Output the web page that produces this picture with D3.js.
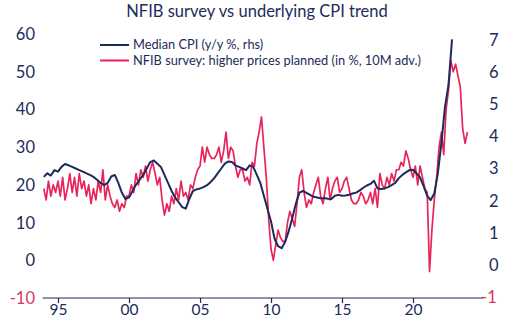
<!DOCTYPE html>
<html>
<head>
<meta charset="utf-8">
<script src="https://cdnjs.cloudflare.com/ajax/libs/d3/7.8.5/d3.min.js"></script>
<style>
  html, body { margin: 0; padding: 0; background: #fff; }
  svg { display: block; font-family: Lato, "Open Sans", sans-serif; }
</style>
</head>
<body>
<svg id="chart" width="514" height="322"></svg>
<script>
// Median CPI, y/y %, quarterly from 1994 Q1 (right axis)
const cpiStart = [1994, 0];
const cpiStepMonths = 3;
const medianCpi = [
  2.74, 2.85, 2.78, 2.95,   // 1994
  2.90, 3.05, 3.14, 3.10,   // 1995
  3.05, 3.00, 2.95, 2.90,   // 1996
  2.85, 2.80, 2.74, 2.65,   // 1997
  2.55, 2.48, 2.55, 2.75,   // 1998
  2.80, 2.55, 2.25, 2.05,   // 1999
  2.10, 2.30, 2.50, 2.65,   // 2000
  2.80, 3.00, 3.20, 3.25,   // 2001
  3.15, 3.05, 2.80, 2.55,   // 2002
  2.30, 2.10, 1.95, 1.80,   // 2003
  1.75, 2.05, 2.30, 2.35,   // 2004
  2.38, 2.42, 2.48, 2.58,   // 2005
  2.70, 2.85, 3.00, 3.15,   // 2006
  3.22, 3.20, 3.10, 3.05,   // 2007
  3.00, 2.95, 3.10, 3.05,   // 2008
  2.80, 2.55, 2.15, 1.75,   // 2009
  1.35, 0.82, 0.58, 0.52,   // 2010
  0.72, 1.05, 1.45, 1.90,   // 2011
  2.25, 2.30, 2.24, 2.18,   // 2012
  2.12, 2.10, 2.07, 2.08,   // 2013
  2.06, 2.05, 2.15, 2.18,   // 2014
  2.15, 2.16, 2.18, 2.22,   // 2015
  2.25, 2.32, 2.40, 2.47,   // 2016
  2.52, 2.62, 2.38, 2.36,   // 2017
  2.38, 2.42, 2.48, 2.55,   // 2018
  2.70, 2.80, 2.88, 2.95,   // 2019
  2.96, 2.85, 2.72, 2.45,   // 2020
  2.15, 2.02, 2.22, 2.85,   // 2021
  3.80, 4.90, 5.60, 7.02    // 2022
];

// NFIB share planning higher prices, %, every two months from Jan 1994, shifted 10 months ahead (left axis)
const nfibStart = [1994, 0];
const nfibStepMonths = 2;
const nfibPlans = [
  19, 16, 21, 17, 20, 18,   // 1994
  21, 17, 22, 16, 19, 23,   // 1995
  18, 22, 17, 23, 19, 21,   // 1996
  17, 20, 15, 19, 16, 21,   // 1997
  18, 24, 16, 20, 17, 15,   // 1998
  14, 16, 13, 15, 14, 17,   // 1999
  17, 20, 18, 23, 20, 24,   // 2000
  22, 25, 21, 24, 26, 23,   // 2001
  20, 22, 16, 12, 15, 13,   // 2002
  17, 15, 19, 16, 21, 17,   // 2003
  18, 16, 20, 19, 22, 24,   // 2004
  25, 30, 26, 30, 28, 27,   // 2005
  27, 28, 30, 26, 29, 34,   // 2006
  27, 30, 29, 25, 22, 24,   // 2007
  24, 21, 22, 20, 26, 25,   // 2008
  31, 34, 38, 30, 22, 11,   // 2009
  3, 0, 4, 8, 6, 5,         // 2010
  5, 10, 13, 11, 9, 15,     // 2011
  22, 24, 18, 14, 16, 15,   // 2012
  18, 20, 22, 17, 15, 19,   // 2013
  22, 16, 19, 21, 22, 18,   // 2014
  19, 21, 22, 19, 16, 15,   // 2015
  15, 16, 18, 17, 15, 16,   // 2016
  18, 15, 19, 14, 23, 20,   // 2017
  19, 22, 20, 23, 21, 24,   // 2018
  24, 26, 25, 29, 27, 24,   // 2019
  22, 25, 20, 25, 22, 19,   // 2020
  18, -3, 8, 16, 22, 30,    // 2021
  34, 28, 40, 45, 53, 50,   // 2022
  52, 49, 46, 35, 31, 34    // 2023
];

const leftTicks = [-10, 0, 10, 20, 30, 40, 50, 60];
const rightTicks = [-1, 0, 1, 2, 3, 4, 5, 6, 7];
const yearTicks = [1995, 2000, 2005, 2010, 2015, 2020];

const titleText = "NFIB survey vs underlying CPI trend";
const legendItems = [
  { label: "Median CPI (y/y %, rhs)", key: "cpi" },
  { label: "NFIB survey: higher prices planned (in %, 10M adv.)", key: "nfib" }
];

const NAVY = "#1c2b5c";
const RED = "#e8255a";
const NEG_RED = "#d83a5e";

const svg = d3.select("#chart");

const x = d3.scaleTime()
  .domain([new Date(1995, 0, 1), new Date(2020, 0, 1)])
  .range([58, 413]);
const yL = d3.scaleLinear().domain([-10, 60]).range([298, 34]);
const yR = d3.scaleLinear().domain([-1, 7]).range([297, 40]);

function toSeries(values, start, step) {
  return values.map((v, i) => ({
    date: new Date(start[0], start[1] + i * step, 1),
    value: v
  }));
}
const cpiSeries = toSeries(medianCpi, cpiStart, cpiStepMonths);
const nfibSeries = toSeries(nfibPlans, nfibStart, nfibStepMonths);

// Title
svg.append("text")
  .attr("x", 257).attr("y", 17)
  .attr("text-anchor", "middle")
  .attr("font-size", 16.5)
  .attr("fill", NAVY)
  .text(titleText);

// Left axis labels
svg.append("g").selectAll("text")
  .data(leftTicks).join("text")
  .attr("x", 35)
  .attr("y", d => yL(d))
  .attr("dy", "0.36em")
  .attr("text-anchor", "end")
  .attr("font-size", 16.5)
  .attr("fill", d => d < 0 ? NEG_RED : NAVY)
  .text(d => d);

// Right axis labels
svg.append("g").selectAll("text")
  .data(rightTicks).join("text")
  .attr("x", d => d < 0 ? 481 : 489)
  .attr("y", d => yR(d))
  .attr("dy", "0.36em")
  .attr("text-anchor", "start")
  .attr("font-size", 16.5)
  .attr("fill", d => d < 0 ? NEG_RED : NAVY)
  .text(d => d);

// Bottom axis
const xAxis = d3.axisBottom(x)
  .tickValues(yearTicks.map(yr => new Date(yr, 0, 1)))
  .tickSize(5)
  .tickPadding(1)
  .tickFormat(d3.timeFormat("%y"));

const axisG = svg.append("g")
  .attr("transform", `translate(0,${yL(-10)})`)
  .call(xAxis);
axisG.select(".domain").remove();
axisG.selectAll(".tick line").attr("stroke", NAVY).attr("stroke-width", 1.2);
axisG.selectAll(".tick text")
  .attr("font-size", 15.5)
  .attr("font-family", "Lato, 'Open Sans', sans-serif")
  .attr("fill", NAVY);
axisG.append("line")
  .attr("x1", x(new Date(1993, 11, 1)))
  .attr("x2", x(new Date(2024, 11, 1)))
  .attr("stroke", NAVY)
  .attr("stroke-width", 1.2);

// Series lines
const nfibLine = d3.line().x(d => x(d.date)).y(d => yL(d.value));
const cpiLine = d3.line().x(d => x(d.date)).y(d => yR(d.value));

svg.append("path")
  .datum(nfibSeries)
  .attr("d", nfibLine)
  .attr("fill", "none")
  .attr("stroke", RED)
  .attr("stroke-width", 1.7)
  .attr("stroke-linejoin", "round");

svg.append("path")
  .datum(cpiSeries)
  .attr("d", cpiLine)
  .attr("fill", "none")
  .attr("stroke", NAVY)
  .attr("stroke-width", 2)
  .attr("stroke-linejoin", "round");

// Legend
const legend = svg.append("g").attr("transform", "translate(100,45)");
const legendRow = legend.selectAll("g")
  .data(legendItems).join("g")
  .attr("transform", (d, i) => `translate(0,${i * 15.5})`);
legendRow.append("line")
  .attr("x1", 0).attr("x2", 29)
  .attr("stroke", d => d.key === "cpi" ? NAVY : RED)
  .attr("stroke-width", 2);
legendRow.append("text")
  .attr("x", 33)
  .attr("dy", "0.35em")
  .attr("font-size", 12.8)
  .attr("fill", NAVY)
  .text(d => d.label);
</script>
</body>
</html>
